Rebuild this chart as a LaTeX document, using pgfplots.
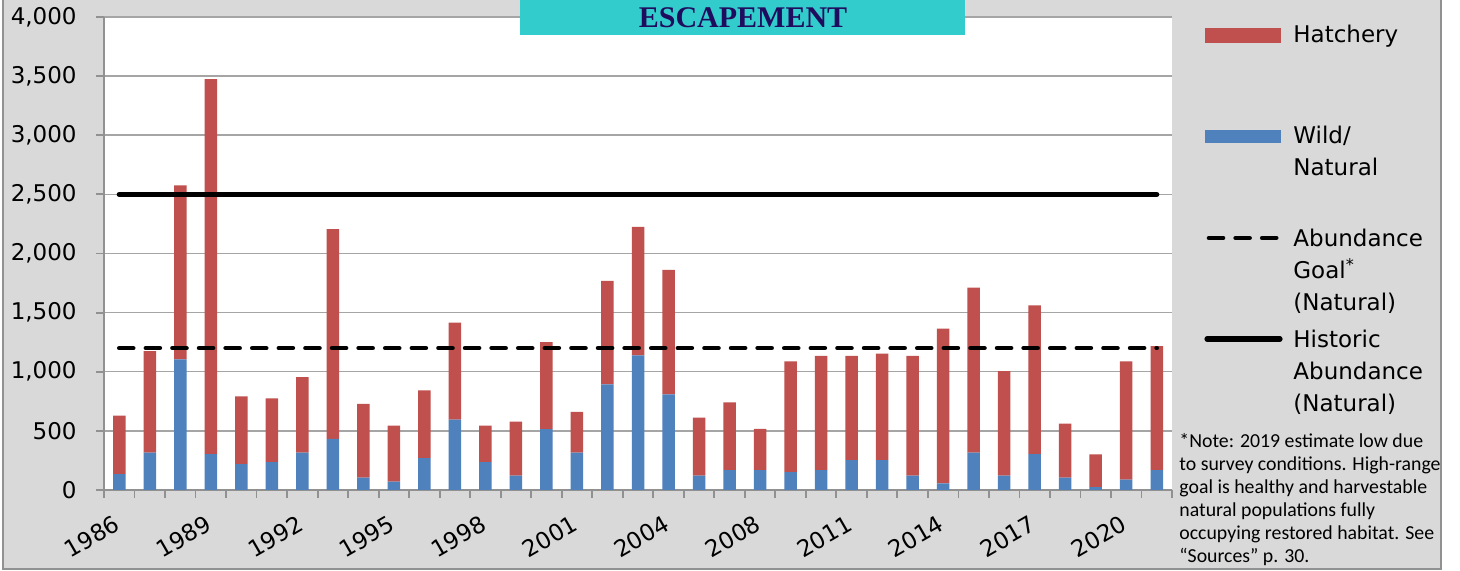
\documentclass[border=0pt]{standalone}
\usepackage{fontspec}
\usepackage{pgfplots}
\usepackage{pgfplotstable}
\pgfplotsset{compat=1.18}
\setmainfont{DejaVu Sans}
\newfontfamily\notefont{Carlito}
\newfontfamily\titlefont{Liberation Serif}

\definecolor{hatch}{RGB}{192,80,77}
\definecolor{wild}{RGB}{79,129,189}
\definecolor{bggray}{RGB}{217,217,217}
\definecolor{framegray}{RGB}{145,145,145}
\definecolor{gridgray}{RGB}{165,165,165}
\definecolor{titlecyan}{RGB}{51,204,204}
\definecolor{titleblue}{RGB}{32,12,94}

\pgfplotstableread{
idx wild hatch
0 135 494
1 317 857
2 1104 1472
3 303 3171
4 219 573
5 236 539
6 317 638
7 433 1774
8 104 624
9 70 475
10 270 573
11 596 820
12 236 309
13 121 458
14 514 736
15 317 343
16 893 875
17 1138 1088
18 809 1052
19 121 491
20 169 573
21 169 348
22 152 935
23 169 966
24 253 882
25 253 901
26 121 1014
27 56 1309
28 317 1394
29 121 885
30 303 1259
31 104 458
32 25 276
33 87 1000
34 169 1047
}\esc

\begin{document}
\fontsize{11.5pt}{13pt}\selectfont
\begin{tikzpicture}
\useasboundingbox (0,0) rectangle (730pt,285.5pt);
\begin{scope}[x=0.5pt,y=-0.5pt,shift={(0pt,285.5pt)}]
\fill[bggray] (3,0) rectangle (1441,569);
\draw[framegray, line width=1pt] (3,-5) -- (3,569) -- (1441,569) -- (1441,-5);
\end{scope}

\begin{axis}[
  at={(52pt,40.5pt)}, anchor=south west, scale only axis,
  width=534pt, height=236.5pt,
  ybar stacked, bar width=6.25pt,
  xmin=-0.5, xmax=34.5, ymin=0, ymax=4000,
  axis background/.style={fill=white},
  axis x line*=bottom, axis y line*=left,
  axis line style={-, framegray, line width=0.9pt},
  every outer x axis line/.append style={-},
  every outer y axis line/.append style={-},
  ymajorgrids, grid style={gridgray, line width=0.75pt},
  ytick={0,500,...,4000},
  yticklabels={0,500,{1,000},{1,500},{2,000},{2,500},{3,000},{3,500},{4,000}},
  xtick={-0.5,0.5,...,34.5}, xticklabels={},
  extra x ticks={0,3,...,33},
  extra x tick labels={1986,1989,1992,1995,1998,2001,2004,2008,2011,2014,2017,2020},
  extra x tick style={major tick length=0pt, grid=none},
  tick align=outside, major tick length=4pt,
  tick style={framegray, line width=0.9pt},
  tick label style={font=\fontsize{11.5pt}{13pt}\selectfont},
  yticklabel style={anchor=east, inner sep=0pt, xshift=-9.5pt},
  xticklabel style={xshift=-3pt, yshift=-12pt, rotate=30, anchor=north east, inner sep=0pt},
]
\addplot[fill=wild, draw=none] table[x=idx,y=wild]{\esc};
\addplot[fill=hatch, draw=none] table[x=idx,y=hatch]{\esc};
\end{axis}

\begin{axis}[
  at={(52pt,40.5pt)}, anchor=south west, scale only axis,
  width=534pt, height=236.5pt,
  xmin=-0.5, xmax=34.5, ymin=0, ymax=4000, hide axis,
]
\addplot[black, line width=2.6pt, line cap=round] coordinates {(0,2500) (34,2500)};
\addplot[black, line width=2.3pt, line cap=round, dash pattern=on 7pt off 6.3pt] coordinates {(0,1200) (34,1200)};
\end{axis}

\begin{scope}[x=0.5pt,y=-0.5pt,shift={(0pt,285.5pt)}]
\fill[titlecyan] (520,0) rectangle (965,35);
\node[titleblue, font=\titlefont\bfseries\fontsize{15pt}{18pt}\selectfont] at (743,17.5) {ESCAPEMENT};
% legend
\fill[hatch] (1205,28) rectangle (1281,43);
\node[anchor=base west, inner sep=0pt] at (1293,43) {Hatchery};
\fill[wild] (1205,130) rectangle (1281,143);
\node[anchor=base west, inner sep=0pt] at (1293,144) {Wild/};
\node[anchor=base west, inner sep=0pt] at (1293,176) {Natural};
\draw[black, line width=2.3pt, line cap=round, dash pattern=on 7pt off 6.3pt] (1209,238) -- (1277,238);
\node[anchor=base west, inner sep=0pt] at (1293,247) {Abundance};
\node[anchor=base west, inner sep=0pt] at (1293,279) {Goal\textsuperscript{*}};
\node[anchor=base west, inner sep=0pt] at (1293,311) {(Natural)};
\draw[black, line width=2.6pt, line cap=round] (1207,339) -- (1280,339);
\node[anchor=base west, inner sep=0pt] at (1293,348) {Historic};
\node[anchor=base west, inner sep=0pt] at (1293,380) {Abundance};
\node[anchor=base west, inner sep=0pt] at (1293,412) {(Natural)};
% note
\begin{scope}[every node/.style={anchor=base west, inner sep=0pt, font=\notefont\fontsize{9.9pt}{11pt}\selectfont}]
\node at (1179,448) {*Note: 2019 estimate low due};
\node at (1179,471) {to survey conditions. High-range};
\node at (1179,494) {goal is healthy and harvestable};
\node at (1179,517) {natural populations fully};
\node at (1179,540) {occupying restored habitat. See};
\node at (1179,563) {“Sources” p. 30.};
\end{scope}
\end{scope}
\end{tikzpicture}
\end{document}
